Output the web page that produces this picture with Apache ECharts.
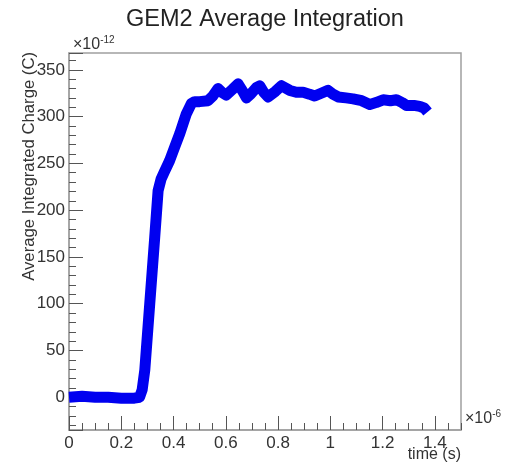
<!DOCTYPE html>
<html>
<head>
<meta charset="utf-8">
<script src="https://cdn.jsdelivr.net/npm/echarts@6/dist/echarts.min.js"></script>
<style>
html,body{margin:0;padding:0;background:#fff;}
#chart{width:513px;height:469px;}
</style>
</head>
<body>
<div id="chart"></div>
<script>
// time in units of 1e-6 s
var timeUs = [0, 0.05, 0.10, 0.15, 0.20, 0.25, 0.27, 0.28, 0.29, 0.309, 0.328, 0.341, 0.352, 0.365,
  0.385, 0.405, 0.424, 0.449, 0.468, 0.481, 0.50, 0.532, 0.550, 0.570, 0.585, 0.602, 0.625, 0.647,
  0.665, 0.679, 0.695, 0.717, 0.730, 0.745, 0.762, 0.790, 0.813, 0.845, 0.870, 0.896, 0.920, 0.940,
  0.965, 0.991, 1.010, 1.030, 1.060, 1.087, 1.120, 1.151, 1.175, 1.202, 1.230, 1.253, 1.275, 1.291,
  1.320, 1.342, 1.360, 1.372];
// charge in units of 1e-12 C
var chargePC = [0, 1, 0, 0, -1, -1, 0, 8, 29, 100, 171, 221, 233, 241,
  253, 268, 282, 303, 314, 316, 316, 317, 322, 330, 326, 323, 329, 335,
  327, 320, 324, 331, 333, 326, 321, 327, 333, 328, 326, 326, 324, 322,
  325, 328, 324, 321, 320, 319, 317, 313, 315, 318, 317, 318, 315, 312,
  312, 311, 309, 305];
var xTickStep = 0.2, xMinorStep = 0.05;
var chartTitle = 'GEM2 Average Integration';
var yName = 'Average Integrated Charge (C)';
var xName = 'time (s)';

var points = timeUs.map(function (t, i) { return [t, chargePC[i]]; });
var font = 'Liberation Sans, Arial, sans-serif';
var tickColor = '#555';

var chart = echarts.init(document.getElementById('chart'), null, {renderer: 'canvas'});
chart.setOption({
  animation: false,
  backgroundColor: '#fff',
  grid: {left: 69, top: 53, width: 392, height: 377, show: true, borderColor: '#a0a0a0', borderWidth: 1.5, containLabel: false},
  xAxis: [{
    type: 'value', min: 0, max: 1.5, interval: xTickStep, position: 'bottom',
    axisLine: {show: true, onZero: false, lineStyle: {color: '#a0a0a0', width: 1.5}},
    axisTick: {show: true, inside: true, length: 14, lineStyle: {color: tickColor, width: 1}},
    axisLabel: {show: true, fontSize: 17, color: '#333', fontFamily: font, margin: 5, showMaxLabel: false},
    splitLine: {show: false}
  }, {
    type: 'value', min: 0, max: 1.5, interval: xMinorStep, position: 'bottom',
    axisLine: {show: false, onZero: false},
    axisTick: {show: true, inside: true, length: 7, lineStyle: {color: tickColor, width: 1}},
    axisLabel: {show: false},
    splitLine: {show: false}
  }],
  yAxis: [{
    type: 'value', min: -35, max: 368, splitNumber: 8,
    axisLine: {show: true, onZero: false, lineStyle: {color: '#a0a0a0', width: 1.5}},
    axisTick: {show: true, inside: true, length: 14, lineStyle: {color: tickColor, width: 1}},
    minorTick: {show: true, splitNumber: 5, length: 7, lineStyle: {color: tickColor, width: 1}},
    axisLabel: {show: true, fontSize: 17, color: '#333', fontFamily: font, margin: 4, showMinLabel: false, showMaxLabel: false},
    splitLine: {show: false}
  }],
  graphic: [
    {type: 'text', x: 265, y: 20, style: {text: chartTitle, font: '23.5px ' + font, fill: '#222', textAlign: 'center', textVerticalAlign: 'middle'}},
    {type: 'text', x: 73, y: 35, style: {text: '{a|×10}{b|-12}', rich: {a: {fontSize: 16, fontFamily: font, fill: '#333', verticalAlign: 'bottom'}, b: {fontSize: 10, fontFamily: font, fill: '#333', verticalAlign: 'top', padding: [0, 0, 8, 0]}}}},
    {type: 'text', x: 465, y: 409, style: {text: '{a|×10}{b|-6}', rich: {a: {fontSize: 16, fontFamily: font, fill: '#333', verticalAlign: 'bottom'}, b: {fontSize: 10, fontFamily: font, fill: '#333', verticalAlign: 'top', padding: [0, 0, 8, 0]}}}},
    {type: 'text', x: 461, y: 455, style: {text: xName, font: '16px ' + font, fill: '#333', textAlign: 'right', textVerticalAlign: 'middle'}},
    {type: 'text', x: 29, y: 52, rotation: Math.PI / 2, style: {text: yName, font: '16.7px ' + font, fill: '#333', textAlign: 'right', textVerticalAlign: 'middle'}}
  ],
  series: [{
    type: 'line', xAxisIndex: 0, yAxisIndex: 0, data: points, showSymbol: false, smooth: false,
    lineStyle: {color: '#0000f0', width: 11, cap: 'butt', join: 'round'},
    clip: true, silent: true
  }]
});
</script>
</body>
</html>
